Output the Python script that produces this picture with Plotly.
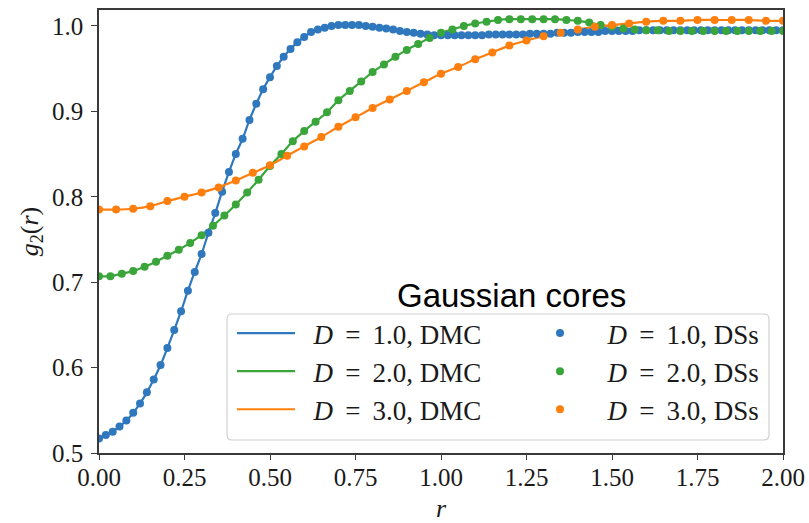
import plotly.graph_objects as go

# ---------------- data ----------------
BLUE_R = [round(i * 0.02, 2) for i in range(101)]
BLUE_G = [
    0.517, 0.521, 0.525, 0.531, 0.538, 0.547, 0.558, 0.571, 0.586, 0.603,
    0.623, 0.644, 0.666, 0.690, 0.712, 0.733, 0.758, 0.781, 0.806, 0.829,
    0.850, 0.868, 0.890, 0.909, 0.926, 0.940, 0.953, 0.964, 0.973, 0.981,
    0.987, 0.993, 0.996, 0.998, 1.000, 1.001, 1.001, 1.001, 1.001, 1.000,
    0.999, 0.998, 0.997, 0.996, 0.994, 0.993, 0.992, 0.991, 0.990, 0.989,
    0.989,
    0.989, 0.989, 0.989, 0.989, 0.989, 0.989, 0.990, 0.990, 0.990, 0.990,
    0.990, 0.990, 0.991, 0.991, 0.991, 0.991, 0.992, 0.992, 0.992, 0.993,
    0.993, 0.993, 0.993, 0.994, 0.994, 0.994, 0.994, 0.994, 0.995, 0.995,
    0.995, 0.995, 0.995, 0.995, 0.995, 0.995, 0.995, 0.995, 0.995, 0.995,
    0.995, 0.995, 0.995, 0.995, 0.995, 0.995, 0.995, 0.995, 0.995, 0.995,
]

GREEN_R = [round(i / 30, 4) for i in range(61)]
GREEN_G = [
    0.707, 0.707, 0.710, 0.713, 0.718, 0.724, 0.731, 0.738, 0.746, 0.755,
    0.766, 0.778, 0.791, 0.805, 0.820, 0.836, 0.850, 0.865, 0.877, 0.888,
    0.899, 0.913, 0.924, 0.935, 0.946, 0.955, 0.964, 0.972, 0.979, 0.986,
    0.992, 0.996, 1.000, 1.003, 1.005, 1.007, 1.008, 1.008, 1.008, 1.008,
    1.008, 1.007, 1.006, 1.004, 1.001, 0.999, 0.997, 0.996, 0.995, 0.995,
    0.994, 0.994, 0.994, 0.994, 0.994, 0.994, 0.994, 0.994, 0.994, 0.994,
    0.994,
]

ORANGE_R = [round(i * 0.05, 2) for i in range(41)]
ORANGE_G = [
    0.785, 0.785, 0.786, 0.789, 0.795, 0.800, 0.805, 0.811, 0.819, 0.828,
    0.837, 0.848, 0.859, 0.870, 0.882, 0.893, 0.904, 0.914, 0.924, 0.934,
    0.944, 0.952, 0.961, 0.969, 0.977, 0.983, 0.988, 0.992, 0.996, 0.999,
    1.001, 1.003, 1.005, 1.006, 1.006, 1.007, 1.007, 1.007, 1.007, 1.006,
    1.006,
]

DS_ERR = 0.003

X_TICKS = [0.0, 0.25, 0.5, 0.75, 1.0, 1.25, 1.5, 1.75, 2.0]
X_TICK_TEXT = ["0.00", "0.25", "0.50", "0.75", "1.00", "1.25", "1.50", "1.75", "2.00"]
Y_TICKS = [0.5, 0.6, 0.7, 0.8, 0.9, 1.0]
Y_TICK_TEXT = ["0.5", "0.6", "0.7", "0.8", "0.9", "1.0"]

SERIES = [
    ("1.0", BLUE_R, BLUE_G, "#2f78bd"),
    ("2.0", GREEN_R, GREEN_G, "#3aa53a"),
    ("3.0", ORANGE_R, ORANGE_G, "#ff7f0e"),
]

SERIF = "Liberation Serif"
TXT = "#1a1a1a"
AX = "#3a3a3a"
TS = "\u2009"  # thin space

fig = go.Figure()

# DMC lines
for d, r, g, c in SERIES:
    fig.add_trace(go.Scatter(
        x=r, y=g, mode="lines", line=dict(color=c, width=2.2, shape="spline"),
        name=f"&nbsp;&nbsp;<i>D</i>{TS} = {TS}{d}, DMC", legend="legend",
    ))

# DSs points with error bars
for d, r, g, c in SERIES:
    fig.add_trace(go.Scatter(
        x=r, y=g, mode="markers",
        marker=dict(color=c, size=8, line=dict(width=0)),
        error_y=dict(type="constant", value=DS_ERR, color=c, thickness=1.5, width=0),
        name=f"&nbsp;&nbsp;<i>D</i>{TS} = {TS}{d}, DSs", legend="legend2",
    ))

# legend frame (px: x 227-769, y 314-440)
PL, PT, PW, PH = 99, 10, 684, 443
def px2x(px):
    return (px - PL) / PW
def py2y(py):
    return (PT + PH - py) / PH

x0, x1, y0, y1 = px2x(227), px2x(769), py2y(440), py2y(314)
rx, ry = 5 / PW, 5 / PH
path = (f"M{x0+rx},{y1} L{x1-rx},{y1} Q{x1},{y1} {x1},{y1-ry} "
        f"L{x1},{y0+ry} Q{x1},{y0} {x1-rx},{y0} L{x0+rx},{y0} "
        f"Q{x0},{y0} {x0},{y0+ry} L{x0},{y1-ry} Q{x0},{y1} {x0+rx},{y1} Z")
fig.add_shape(type="path", path=path, xref="paper", yref="paper",
              line=dict(color="#d0d0d0", width=1.2),
              fillcolor="rgba(255,255,255,0.85)", layer="above")

fig.add_annotation(
    text="Gaussian cores", xref="paper", yref="paper",
    x=px2x(512), y=py2y(295), xanchor="center", yanchor="middle",
    showarrow=False, font=dict(family="Liberation Sans", size=33, color="#000"),
)

legend_common = dict(
    bgcolor="rgba(0,0,0,0)", borderwidth=0,
    font=dict(family=SERIF, size=27, color=TXT),
    xanchor="left", yanchor="top", orientation="v", tracegroupgap=0,
    itemwidth=58,
)

fig.update_layout(
    width=809, height=523,
    margin=dict(l=PL, r=809 - PL - PW, t=PT, b=523 - PT - PH, autoexpand=False),
    paper_bgcolor="white", plot_bgcolor="white",
    showlegend=True,
    legend=dict(x=px2x(232), y=py2y(309), **legend_common),
    legend2=dict(x=px2x(526), y=py2y(309), **legend_common),
    xaxis=dict(
        range=[0, 2], tickvals=X_TICKS, ticktext=X_TICK_TEXT, automargin=False,
        showline=True, mirror=True, linecolor=AX, linewidth=1.6,
        ticks="outside", ticklen=5, tickwidth=1.4, tickcolor=AX,
        showgrid=False, zeroline=False, ticklabelstandoff=-4,
        tickfont=dict(family=SERIF, size=25, color=TXT),
        title=dict(text="<i>r</i>", font=dict(family=SERIF, size=26, color=TXT), standoff=14),
    ),
    yaxis=dict(
        range=[0.5, 1.0187], tickvals=Y_TICKS, ticktext=Y_TICK_TEXT, automargin=False,
        showline=True, mirror=True, linecolor=AX, linewidth=1.6,
        ticks="outside", ticklen=6, tickwidth=1.4, tickcolor=AX,
        showgrid=False, zeroline=False, ticklabelstandoff=3,
        tickfont=dict(family=SERIF, size=25, color=TXT),
        title=dict(text="<i>g</i><sub>2</sub>(<i>r</i>)",
                   font=dict(family=SERIF, size=26, color=TXT), standoff=6),
    ),
)

fig.write_html("out.html")
